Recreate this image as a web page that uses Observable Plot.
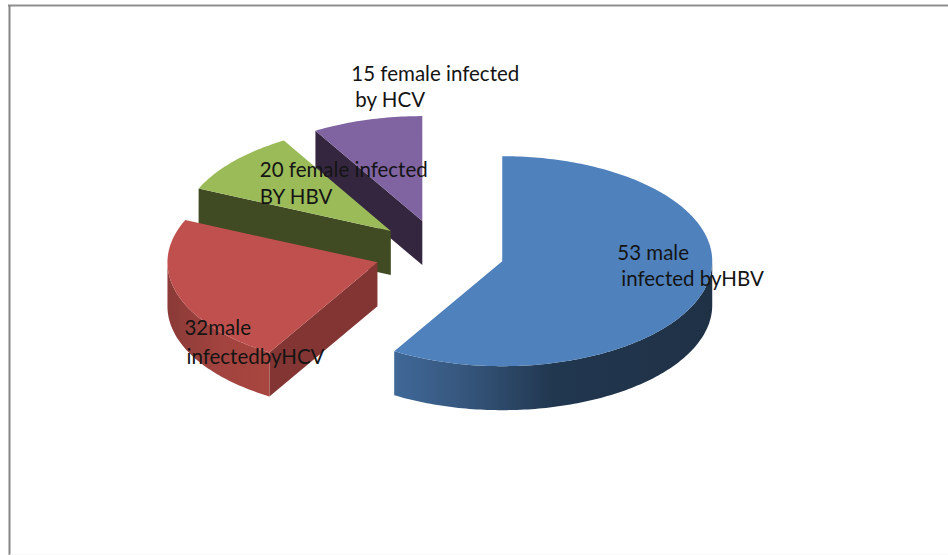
<!DOCTYPE html>
<html>
<head>
<meta charset="utf-8">
<script src="https://cdn.jsdelivr.net/npm/d3@7"></script>
<script src="https://cdn.jsdelivr.net/npm/@observablehq/plot@0.6"></script>
<style>html,body{margin:0;padding:0;background:#fff}svg{display:block}</style>
</head>
<body>
<div id="chart"></div>
<script>
// Slice shares as drawn in the picture (percent of the full turn, clockwise from 12 o'clock)
const categories = ["male HBV", "male HCV", "female HBV", "female HCV"];
const shares = [58.6, 23.0, 9.9, 8.5];
const topColors = ["#4f81bd", "#c0504d", "#9bbb59", "#8064a2"];
const faceColors = ["#2b4566", "#833533", "#404a23", "#35263f"];
const labelLines = [
  ["53 male", "infected byHBV"],
  ["32male", "infectedbyHCV"],
  ["20 female infected", "BY HBV"],
  ["15 female infected", "by HCV"]
];

// Layout of the projected pie
const W = 948, H = 555;
const cx = 439, cy = 252, rx = 210, ry = 105, depth = 44, explode = 0.31;
// Label line anchors relative to each slice's apex
const labelOffsets = [
  [[115, -1], [119, 25]],
  [[-193, 73], [-191, 102]],
  [[-131, -54], [-131, -27]],
  [[-71, -140], [-67, -114]]
];

const total = d3.sum(shares);
let acc = 0;
const slices = shares.map((s, i) => {
  const a0 = acc / total * 360;
  acc += s;
  const a1 = acc / total * 360;
  const m = (a0 + a1) / 2 * Math.PI / 180;
  return {i, a0, a1, ax: cx + explode * rx * Math.sin(m), ay: cy - explode * ry * Math.cos(m)};
});
const at = (sl, deg, z = 0) => ({
  x: sl.ax + rx * Math.sin(deg * Math.PI / 180),
  y: sl.ay - ry * Math.cos(deg * Math.PI / 180) + z
});
const arc = (sl, from, to, z = 0) => d3.range(from, to, 1).concat([to]).map(d => at(sl, d, z));

const poly = (pts, fill) => Plot.line(pts, {x: "x", y: "y", fill, stroke: "none", curve: "linear"});

const defs = () => {
  const d = d3.create("svg:defs");
  const grad = (id, stops) => {
    const g = d.append("linearGradient").attr("id", id).attr("x1", 0).attr("x2", 1).attr("y1", 0).attr("y2", 0);
    stops.forEach(([o, c]) => g.append("stop").attr("offset", o).attr("stop-color", c));
  };
  grad("side0", [[0, "#3f6898"], [0.2, "#37587f"], [0.5, "#213750"], [1, "#1f3145"]]);
  grad("side1", [[0, "#8a3a37"], [0.5, "#a2433f"], [1, "#a8463f"]]);
  return d.node();
};

const sliceMarks = [];
slices.slice().reverse().forEach(sl => {
  const {i, a0, a1, ax, ay} = sl;
  if (i > 0) {
    const e = at(sl, a0);
    sliceMarks.push(poly([{x: ax, y: ay}, e, {x: e.x, y: e.y + depth}, {x: ax, y: ay + depth}], faceColors[i]));
  }
  const from = Math.max(a0, 90), to = Math.min(a1, 270);
  if (from < to) {
    sliceMarks.push(poly([...arc(sl, from, to), ...arc(sl, from, to, depth).reverse()], `url(#side${i})`));
  }
  sliceMarks.push(poly([{x: ax, y: ay}, ...arc(sl, a0, a1)], topColors[i]));
});

const labels = slices.flatMap(sl => labelLines[sl.i].map((text, k) => ({
  text,
  x: sl.ax + labelOffsets[sl.i][k][0],
  y: sl.ay + labelOffsets[sl.i][k][1]
})));

const plot = Plot.plot({
  width: W, height: H, margin: 0,
  style: {background: "#fff"},
  x: {domain: [0, W], range: [0, W], axis: null},
  y: {domain: [0, H], range: [0, H], axis: null},
  marks: [
    defs,
    Plot.ruleY([5], {x1: 8, x2: W, stroke: "#8f8f8f", strokeWidth: 2}),
    Plot.ruleX([9], {y1: 5, y2: H, stroke: "#858585", strokeWidth: 2}),
    Plot.ruleY([554.5], {x1: 9, x2: W, stroke: "#f0f0f0", strokeWidth: 1}),
    ...sliceMarks,
    Plot.text(labels, {
      x: "x", y: "y", text: "text", textAnchor: "start", lineAnchor: "bottom",
      fontFamily: "Lato", fontSize: 20.5, fill: "#141414"
    })
  ]
});
document.getElementById("chart").append(plot);
</script>
</body>
</html>
